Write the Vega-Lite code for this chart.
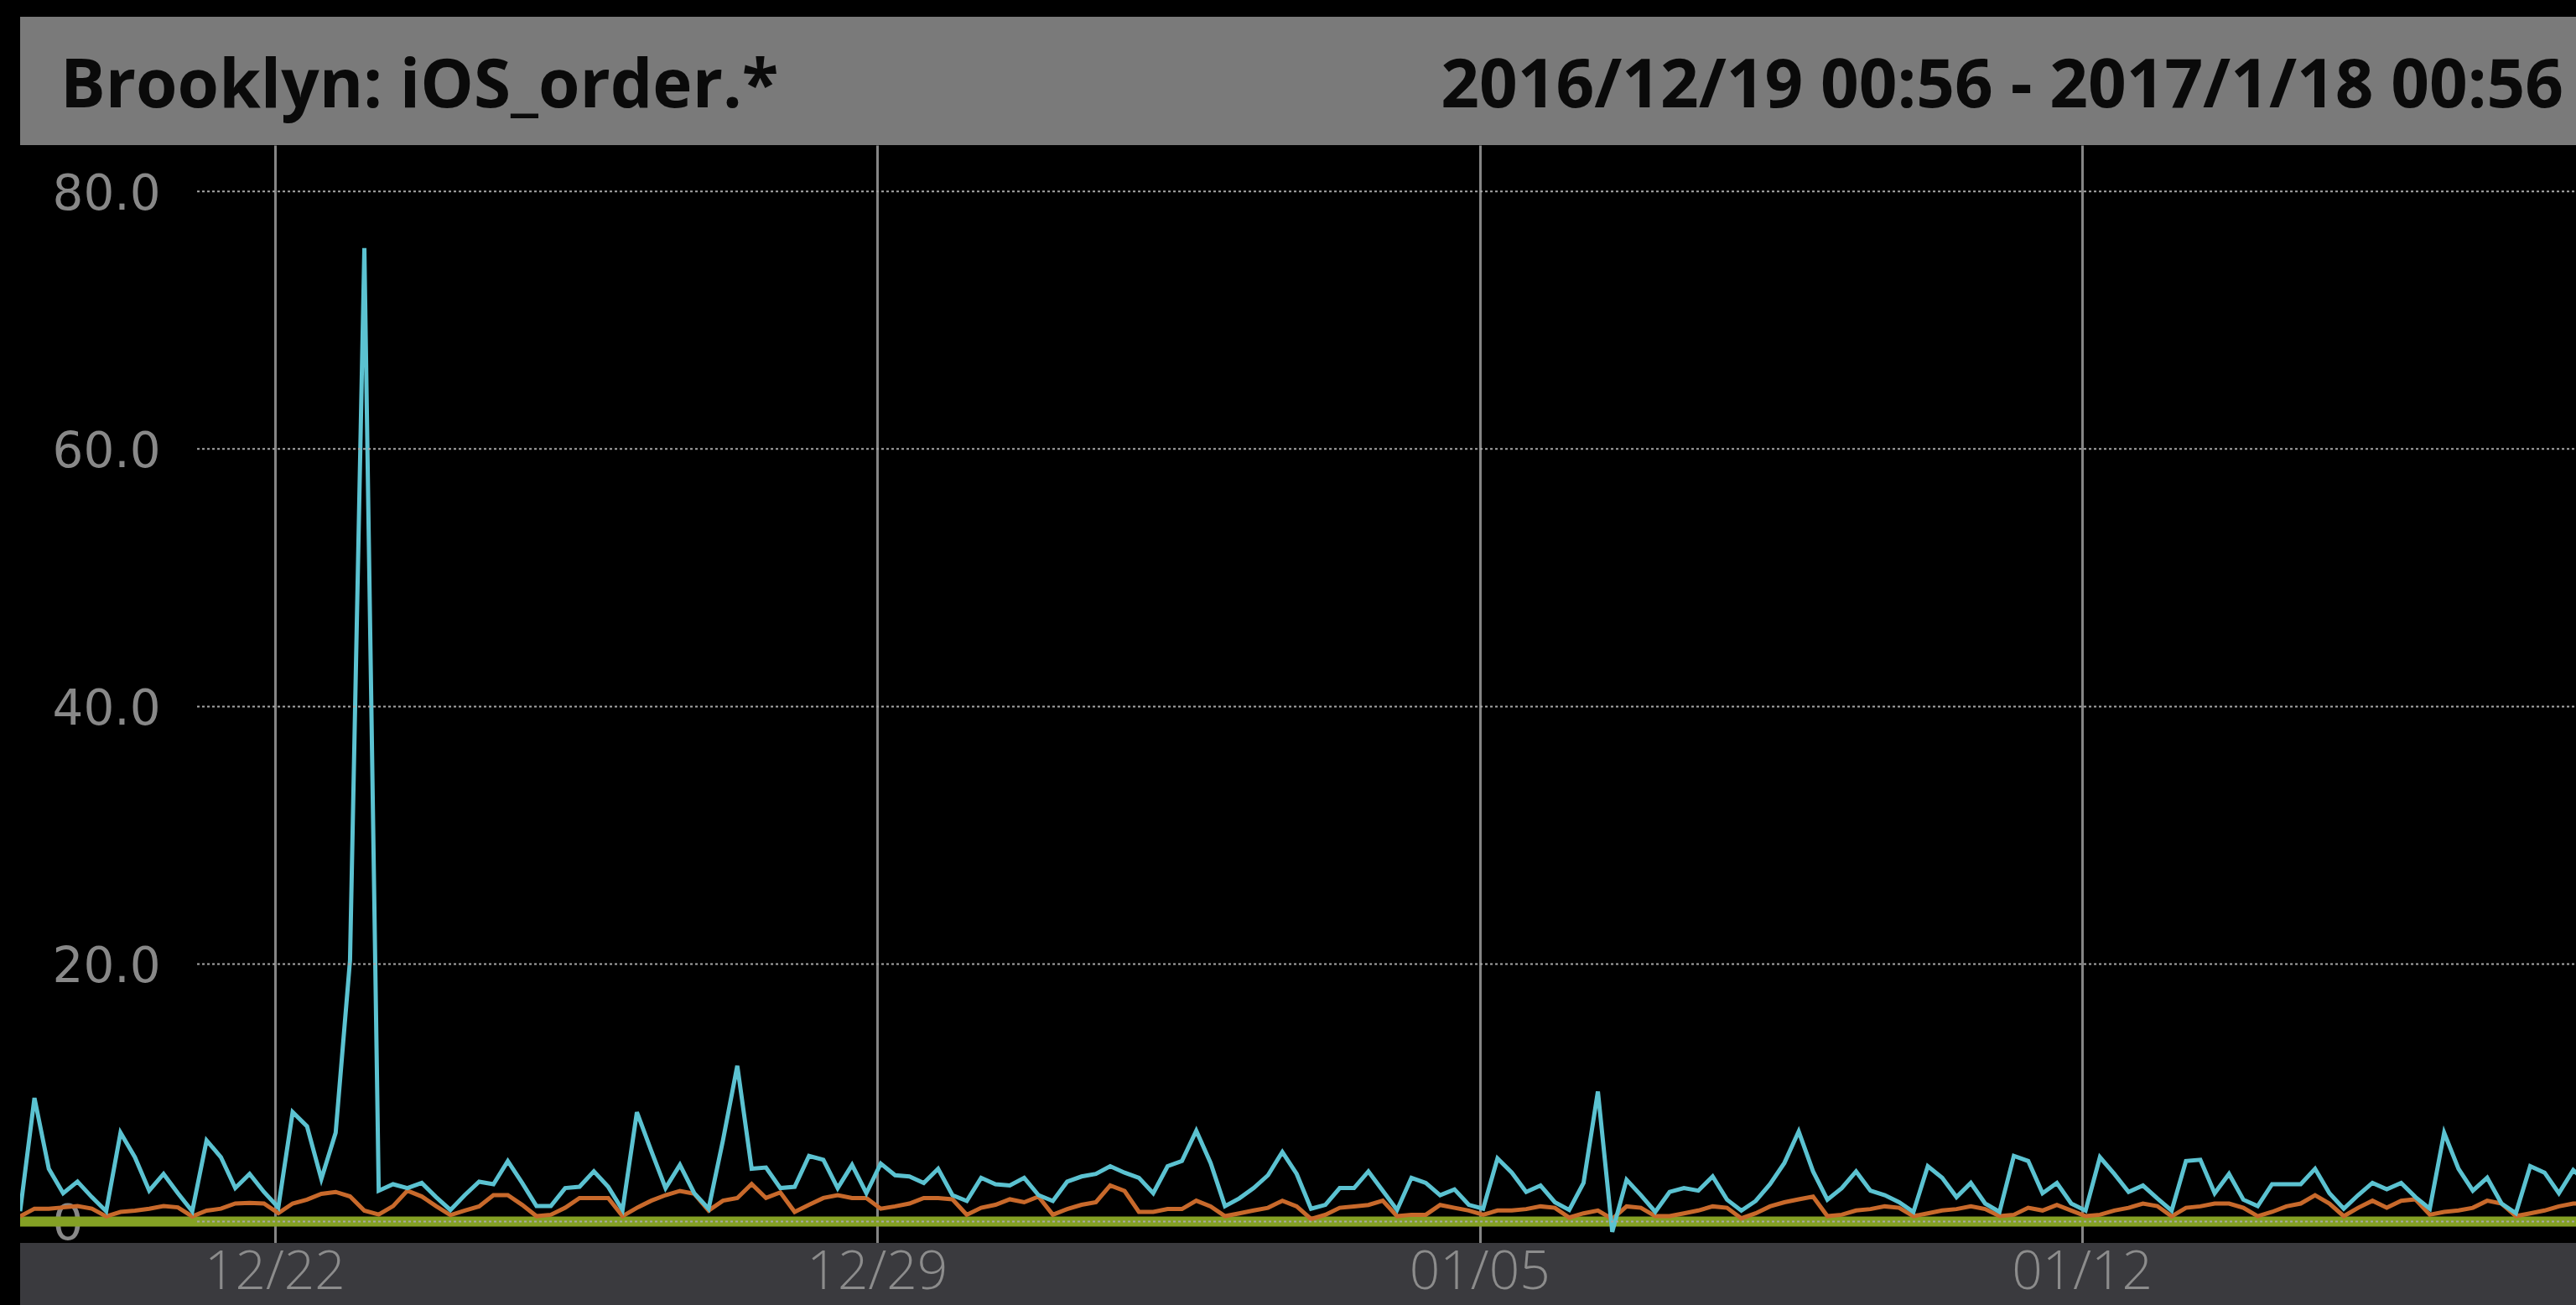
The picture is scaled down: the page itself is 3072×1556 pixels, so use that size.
{
  "$schema": "https://vega.github.io/schema/vega-lite/v6.json",
  "background": "black",
  "padding": {"left": 24, "top": 20, "right": 0, "bottom": 0},
  "spacing": 0,
  "bounds": "flush",
  "config": {"view": {"stroke": null}},
  "resolve": {"scale": {"x": "independent", "y": "independent"}},
  "datasets": {
    "header": [
      {"pos": "left", "label": "Brooklyn: iOS_order.*"},
      {"pos": "right", "label": "2016/12/19 00:56 - 2017/1/18 00:56"}
    ],
    "weeks": [
      {"t": "2016-12-22T00:00"},
      {"t": "2016-12-29T00:00"},
      {"t": "2017-01-05T00:00"},
      {"t": "2017-01-12T00:00"}
    ],
    "gridvals": [{"v": 0}, {"v": 20}, {"v": 40}, {"v": 60}, {"v": 80}],
    "series": [
      {"t": "2016-12-19T00:56", "s1": 0.8, "s2": 0.4, "s3": 0},
      {"t": "2016-12-19T04:56", "s1": 9.6, "s2": 1.0, "s3": 0},
      {"t": "2016-12-19T08:56", "s1": 4.1, "s2": 1.0, "s3": 0},
      {"t": "2016-12-19T12:56", "s1": 2.2, "s2": 1.1, "s3": 0},
      {"t": "2016-12-19T16:56", "s1": 3.1, "s2": 1.2, "s3": 0},
      {"t": "2016-12-19T20:56", "s1": 1.9, "s2": 1.0, "s3": 0},
      {"t": "2016-12-20T00:56", "s1": 0.8, "s2": 0.4, "s3": 0},
      {"t": "2016-12-20T04:56", "s1": 6.9, "s2": 0.75, "s3": 0},
      {"t": "2016-12-20T08:56", "s1": 5.0, "s2": 0.85, "s3": 0},
      {"t": "2016-12-20T12:56", "s1": 2.4, "s2": 1.0, "s3": 0},
      {"t": "2016-12-20T16:56", "s1": 3.7, "s2": 1.2, "s3": 0},
      {"t": "2016-12-20T20:56", "s1": 2.2, "s2": 1.1, "s3": 0},
      {"t": "2016-12-21T00:56", "s1": 0.8, "s2": 0.4, "s3": 0},
      {"t": "2016-12-21T04:56", "s1": 6.3, "s2": 0.85, "s3": 0},
      {"t": "2016-12-21T08:56", "s1": 5.0, "s2": 1.0, "s3": 0},
      {"t": "2016-12-21T12:56", "s1": 2.6, "s2": 1.4, "s3": 0},
      {"t": "2016-12-21T16:56", "s1": 3.7, "s2": 1.45, "s3": 0},
      {"t": "2016-12-21T20:56", "s1": 2.3, "s2": 1.4, "s3": 0},
      {"t": "2016-12-22T00:56", "s1": 1.1, "s2": 0.65, "s3": 0},
      {"t": "2016-12-22T04:56", "s1": 8.5, "s2": 1.4, "s3": 0},
      {"t": "2016-12-22T08:56", "s1": 7.4, "s2": 1.7, "s3": 0},
      {"t": "2016-12-22T12:56", "s1": 3.3, "s2": 2.15, "s3": 0},
      {"t": "2016-12-22T16:56", "s1": 6.9, "s2": 2.3, "s3": 0},
      {"t": "2016-12-22T20:56", "s1": 20.3, "s2": 1.95, "s3": 0},
      {"t": "2016-12-23T00:56", "s1": 75.6, "s2": 0.85, "s3": 0},
      {"t": "2016-12-23T04:56", "s1": 2.4, "s2": 0.55, "s3": 0},
      {"t": "2016-12-23T08:56", "s1": 2.9, "s2": 1.2, "s3": 0},
      {"t": "2016-12-23T12:56", "s1": 2.6, "s2": 2.4, "s3": 0},
      {"t": "2016-12-23T16:56", "s1": 3.0, "s2": 1.95, "s3": 0},
      {"t": "2016-12-23T20:56", "s1": 1.9, "s2": 1.2, "s3": 0},
      {"t": "2016-12-24T00:56", "s1": 0.9, "s2": 0.5, "s3": 0},
      {"t": "2016-12-24T04:56", "s1": 2.05, "s2": 0.86, "s3": 0},
      {"t": "2016-12-24T08:56", "s1": 3.1, "s2": 1.18, "s3": 0},
      {"t": "2016-12-24T12:56", "s1": 2.9, "s2": 2.05, "s3": 0},
      {"t": "2016-12-24T16:56", "s1": 4.7, "s2": 2.05, "s3": 0},
      {"t": "2016-12-24T20:56", "s1": 3.0, "s2": 1.3, "s3": 0},
      {"t": "2016-12-25T00:56", "s1": 1.2, "s2": 0.42, "s3": 0},
      {"t": "2016-12-25T04:56", "s1": 1.2, "s2": 0.53, "s3": 0},
      {"t": "2016-12-25T08:56", "s1": 2.6, "s2": 1.07, "s3": 0},
      {"t": "2016-12-25T12:56", "s1": 2.7, "s2": 1.83, "s3": 0},
      {"t": "2016-12-25T16:56", "s1": 3.9, "s2": 1.83, "s3": 0},
      {"t": "2016-12-25T20:56", "s1": 2.7, "s2": 1.83, "s3": 0},
      {"t": "2016-12-26T00:56", "s1": 0.9, "s2": 0.42, "s3": 0},
      {"t": "2016-12-26T04:56", "s1": 8.5, "s2": 1.07, "s3": 0},
      {"t": "2016-12-26T08:56", "s1": 5.5, "s2": 1.62, "s3": 0},
      {"t": "2016-12-26T12:56", "s1": 2.6, "s2": 2.05, "s3": 0},
      {"t": "2016-12-26T16:56", "s1": 4.4, "s2": 2.38, "s3": 0},
      {"t": "2016-12-26T20:56", "s1": 2.2, "s2": 2.16, "s3": 0},
      {"t": "2016-12-27T00:56", "s1": 1.0, "s2": 0.86, "s3": 0},
      {"t": "2016-12-27T04:56", "s1": 6.3, "s2": 1.62, "s3": 0},
      {"t": "2016-12-27T08:56", "s1": 12.1, "s2": 1.83, "s3": 0},
      {"t": "2016-12-27T12:56", "s1": 4.1, "s2": 2.92, "s3": 0},
      {"t": "2016-12-27T16:56", "s1": 4.2, "s2": 1.83, "s3": 0},
      {"t": "2016-12-27T20:56", "s1": 2.6, "s2": 2.27, "s3": 0},
      {"t": "2016-12-28T00:56", "s1": 2.7, "s2": 0.75, "s3": 0},
      {"t": "2016-12-28T04:56", "s1": 5.1, "s2": 1.3, "s3": 0},
      {"t": "2016-12-28T08:56", "s1": 4.8, "s2": 1.83, "s3": 0},
      {"t": "2016-12-28T12:56", "s1": 2.6, "s2": 2.05, "s3": 0},
      {"t": "2016-12-28T16:56", "s1": 4.4, "s2": 1.83, "s3": 0},
      {"t": "2016-12-28T20:56", "s1": 2.2, "s2": 1.83, "s3": 0},
      {"t": "2016-12-29T00:56", "s1": 4.5, "s2": 1.0, "s3": 0},
      {"t": "2016-12-29T04:56", "s1": 3.6, "s2": 1.18, "s3": 0},
      {"t": "2016-12-29T08:56", "s1": 3.5, "s2": 1.4, "s3": 0},
      {"t": "2016-12-29T12:56", "s1": 3.0, "s2": 1.83, "s3": 0},
      {"t": "2016-12-29T16:56", "s1": 4.1, "s2": 1.83, "s3": 0},
      {"t": "2016-12-29T20:56", "s1": 2.05, "s2": 1.73, "s3": 0},
      {"t": "2016-12-30T00:56", "s1": 1.6, "s2": 0.53, "s3": 0},
      {"t": "2016-12-30T04:56", "s1": 3.4, "s2": 1.07, "s3": 0},
      {"t": "2016-12-30T08:56", "s1": 2.9, "s2": 1.3, "s3": 0},
      {"t": "2016-12-30T12:56", "s1": 2.8, "s2": 1.73, "s3": 0},
      {"t": "2016-12-30T16:56", "s1": 3.4, "s2": 1.5, "s3": 0},
      {"t": "2016-12-30T20:56", "s1": 2.05, "s2": 1.94, "s3": 0},
      {"t": "2016-12-31T00:56", "s1": 1.6, "s2": 0.53, "s3": 0},
      {"t": "2016-12-31T04:56", "s1": 3.1, "s2": 0.97, "s3": 0},
      {"t": "2016-12-31T08:56", "s1": 3.5, "s2": 1.3, "s3": 0},
      {"t": "2016-12-31T12:56", "s1": 3.7, "s2": 1.5, "s3": 0},
      {"t": "2016-12-31T16:56", "s1": 4.3, "s2": 2.81, "s3": 0},
      {"t": "2016-12-31T20:56", "s1": 3.8, "s2": 2.38, "s3": 0},
      {"t": "2017-01-01T00:56", "s1": 3.4, "s2": 0.75, "s3": 0},
      {"t": "2017-01-01T04:56", "s1": 2.2, "s2": 0.75, "s3": 0},
      {"t": "2017-01-01T08:56", "s1": 4.3, "s2": 0.97, "s3": 0},
      {"t": "2017-01-01T12:56", "s1": 4.7, "s2": 0.97, "s3": 0},
      {"t": "2017-01-01T16:56", "s1": 7.05, "s2": 1.62, "s3": 0},
      {"t": "2017-01-01T20:56", "s1": 4.55, "s2": 1.18, "s3": 0},
      {"t": "2017-01-02T00:56", "s1": 1.2, "s2": 0.42, "s3": 0},
      {"t": "2017-01-02T04:56", "s1": 1.8, "s2": 0.64, "s3": 0},
      {"t": "2017-01-02T08:56", "s1": 2.6, "s2": 0.86, "s3": 0},
      {"t": "2017-01-02T12:56", "s1": 3.6, "s2": 1.07, "s3": 0},
      {"t": "2017-01-02T16:56", "s1": 5.4, "s2": 1.62, "s3": 0},
      {"t": "2017-01-02T20:56", "s1": 3.7, "s2": 1.18, "s3": 0},
      {"t": "2017-01-03T00:56", "s1": 1.0, "s2": 0.2, "s3": 0},
      {"t": "2017-01-03T04:56", "s1": 1.3, "s2": 0.53, "s3": 0},
      {"t": "2017-01-03T08:56", "s1": 2.6, "s2": 1.07, "s3": 0},
      {"t": "2017-01-03T12:56", "s1": 2.6, "s2": 1.18, "s3": 0},
      {"t": "2017-01-03T16:56", "s1": 3.9, "s2": 1.29, "s3": 0},
      {"t": "2017-01-03T20:56", "s1": 2.4, "s2": 1.62, "s3": 0},
      {"t": "2017-01-04T00:56", "s1": 0.9, "s2": 0.42, "s3": 0},
      {"t": "2017-01-04T04:56", "s1": 3.4, "s2": 0.53, "s3": 0},
      {"t": "2017-01-04T08:56", "s1": 3.0, "s2": 0.53, "s3": 0},
      {"t": "2017-01-04T12:56", "s1": 2.05, "s2": 1.29, "s3": 0},
      {"t": "2017-01-04T16:56", "s1": 2.5, "s2": 1.07, "s3": 0},
      {"t": "2017-01-04T20:56", "s1": 1.3, "s2": 0.86, "s3": 0},
      {"t": "2017-01-05T00:56", "s1": 1.0, "s2": 0.53, "s3": 0},
      {"t": "2017-01-05T04:56", "s1": 4.9, "s2": 0.86, "s3": 0},
      {"t": "2017-01-05T08:56", "s1": 3.8, "s2": 0.86, "s3": 0},
      {"t": "2017-01-05T12:56", "s1": 2.3, "s2": 0.97, "s3": 0},
      {"t": "2017-01-05T16:56", "s1": 2.8, "s2": 1.18, "s3": 0},
      {"t": "2017-01-05T20:56", "s1": 1.5, "s2": 1.07, "s3": 0},
      {"t": "2017-01-06T00:56", "s1": 0.9, "s2": 0.31, "s3": 0},
      {"t": "2017-01-06T04:56", "s1": 3.0, "s2": 0.64, "s3": 0},
      {"t": "2017-01-06T08:56", "s1": 10.1, "s2": 0.86, "s3": 0},
      {"t": "2017-01-06T12:56", "s1": -0.8, "s2": 0.2, "s3": 0},
      {"t": "2017-01-06T16:56", "s1": 3.25, "s2": 1.18, "s3": 0},
      {"t": "2017-01-06T20:56", "s1": 2.05, "s2": 1.07, "s3": 0},
      {"t": "2017-01-07T00:56", "s1": 0.75, "s2": 0.42, "s3": 0},
      {"t": "2017-01-07T04:56", "s1": 2.3, "s2": 0.42, "s3": 0},
      {"t": "2017-01-07T08:56", "s1": 2.6, "s2": 0.64, "s3": 0},
      {"t": "2017-01-07T12:56", "s1": 2.4, "s2": 0.86, "s3": 0},
      {"t": "2017-01-07T16:56", "s1": 3.5, "s2": 1.18, "s3": 0},
      {"t": "2017-01-07T20:56", "s1": 1.7, "s2": 1.07, "s3": 0},
      {"t": "2017-01-08T00:56", "s1": 0.85, "s2": 0.25, "s3": 0},
      {"t": "2017-01-08T04:56", "s1": 1.6, "s2": 0.64, "s3": 0},
      {"t": "2017-01-08T08:56", "s1": 2.9, "s2": 1.18, "s3": 0},
      {"t": "2017-01-08T12:56", "s1": 4.55, "s2": 1.5, "s3": 0},
      {"t": "2017-01-08T16:56", "s1": 7.0, "s2": 1.73, "s3": 0},
      {"t": "2017-01-08T20:56", "s1": 3.9, "s2": 1.94, "s3": 0},
      {"t": "2017-01-09T00:56", "s1": 1.7, "s2": 0.42, "s3": 0},
      {"t": "2017-01-09T04:56", "s1": 2.6, "s2": 0.53, "s3": 0},
      {"t": "2017-01-09T08:56", "s1": 3.9, "s2": 0.86, "s3": 0},
      {"t": "2017-01-09T12:56", "s1": 2.4, "s2": 0.97, "s3": 0},
      {"t": "2017-01-09T16:56", "s1": 2.05, "s2": 1.18, "s3": 0},
      {"t": "2017-01-09T20:56", "s1": 1.5, "s2": 1.07, "s3": 0},
      {"t": "2017-01-10T00:56", "s1": 0.75, "s2": 0.42, "s3": 0},
      {"t": "2017-01-10T04:56", "s1": 4.3, "s2": 0.64, "s3": 0},
      {"t": "2017-01-10T08:56", "s1": 3.4, "s2": 0.86, "s3": 0},
      {"t": "2017-01-10T12:56", "s1": 1.9, "s2": 0.97, "s3": 0},
      {"t": "2017-01-10T16:56", "s1": 3.0, "s2": 1.18, "s3": 0},
      {"t": "2017-01-10T20:56", "s1": 1.4, "s2": 0.97, "s3": 0},
      {"t": "2017-01-11T00:56", "s1": 0.75, "s2": 0.42, "s3": 0},
      {"t": "2017-01-11T04:56", "s1": 5.1, "s2": 0.53, "s3": 0},
      {"t": "2017-01-11T08:56", "s1": 4.7, "s2": 1.07, "s3": 0},
      {"t": "2017-01-11T12:56", "s1": 2.2, "s2": 0.86, "s3": 0},
      {"t": "2017-01-11T16:56", "s1": 3.0, "s2": 1.29, "s3": 0},
      {"t": "2017-01-11T20:56", "s1": 1.4, "s2": 0.86, "s3": 0},
      {"t": "2017-01-12T00:56", "s1": 0.85, "s2": 0.42, "s3": 0},
      {"t": "2017-01-12T04:56", "s1": 5.0, "s2": 0.53, "s3": 0},
      {"t": "2017-01-12T08:56", "s1": 3.7, "s2": 0.86, "s3": 0},
      {"t": "2017-01-12T12:56", "s1": 2.3, "s2": 1.07, "s3": 0},
      {"t": "2017-01-12T16:56", "s1": 2.8, "s2": 1.4, "s3": 0},
      {"t": "2017-01-12T20:56", "s1": 1.8, "s2": 1.2, "s3": 0},
      {"t": "2017-01-13T00:56", "s1": 0.85, "s2": 0.4, "s3": 0},
      {"t": "2017-01-13T04:56", "s1": 4.7, "s2": 1.07, "s3": 0},
      {"t": "2017-01-13T08:56", "s1": 4.8, "s2": 1.18, "s3": 0},
      {"t": "2017-01-13T12:56", "s1": 2.2, "s2": 1.4, "s3": 0},
      {"t": "2017-01-13T16:56", "s1": 3.7, "s2": 1.4, "s3": 0},
      {"t": "2017-01-13T20:56", "s1": 1.7, "s2": 1.07, "s3": 0},
      {"t": "2017-01-14T00:56", "s1": 1.2, "s2": 0.42, "s3": 0},
      {"t": "2017-01-14T04:56", "s1": 2.9, "s2": 0.75, "s3": 0},
      {"t": "2017-01-14T08:56", "s1": 2.9, "s2": 1.18, "s3": 0},
      {"t": "2017-01-14T12:56", "s1": 2.9, "s2": 1.4, "s3": 0},
      {"t": "2017-01-14T16:56", "s1": 4.1, "s2": 2.05, "s3": 0},
      {"t": "2017-01-14T20:56", "s1": 2.2, "s2": 1.4, "s3": 0},
      {"t": "2017-01-15T00:56", "s1": 1.0, "s2": 0.42, "s3": 0},
      {"t": "2017-01-15T04:56", "s1": 2.05, "s2": 1.07, "s3": 0},
      {"t": "2017-01-15T08:56", "s1": 3.0, "s2": 1.62, "s3": 0},
      {"t": "2017-01-15T12:56", "s1": 2.5, "s2": 1.07, "s3": 0},
      {"t": "2017-01-15T16:56", "s1": 3.0, "s2": 1.62, "s3": 0},
      {"t": "2017-01-15T20:56", "s1": 1.9, "s2": 1.73, "s3": 0},
      {"t": "2017-01-16T00:56", "s1": 1.0, "s2": 0.53, "s3": 0},
      {"t": "2017-01-16T04:56", "s1": 6.9, "s2": 0.75, "s3": 0},
      {"t": "2017-01-16T08:56", "s1": 4.1, "s2": 0.86, "s3": 0},
      {"t": "2017-01-16T12:56", "s1": 2.4, "s2": 1.07, "s3": 0},
      {"t": "2017-01-16T16:56", "s1": 3.4, "s2": 1.62, "s3": 0},
      {"t": "2017-01-16T20:56", "s1": 1.4, "s2": 1.4, "s3": 0},
      {"t": "2017-01-17T00:56", "s1": 0.65, "s2": 0.42, "s3": 0},
      {"t": "2017-01-17T04:56", "s1": 4.3, "s2": 0.64, "s3": 0},
      {"t": "2017-01-17T08:56", "s1": 3.8, "s2": 0.86, "s3": 0},
      {"t": "2017-01-17T12:56", "s1": 2.2, "s2": 1.18, "s3": 0},
      {"t": "2017-01-17T16:56", "s1": 4.0, "s2": 1.4, "s3": 0},
      {"t": "2017-01-17T20:56", "s1": 3.0, "s2": 1.4, "s3": 0}
    ]
  },
  "vconcat": [
    {
      "width": 3048,
      "height": 153,
      "view": {"fill": "#7a7a7a", "stroke": null},
      "data": {"name": "header"},
      "layer": [
        {
          "transform": [{"filter": "datum.pos === 'left'"}],
          "mark": {"type": "text", "align": "left", "baseline": "alphabetic", "dx": 48, "dy": 31, "font": "Open Sans", "fontWeight": "bold", "fontSize": 80, "color": "#0a0a0a"},
          "encoding": {
            "x": {"field": "pos", "type": "nominal", "scale": {"type": "point", "domain": ["left", "right"], "padding": 0}, "axis": null},
            "text": {"field": "label", "type": "nominal"}
          }
        },
        {
          "transform": [{"filter": "datum.pos === 'right'"}],
          "mark": {"type": "text", "align": "right", "baseline": "alphabetic", "dx": -15, "dy": 31, "font": "Open Sans", "fontWeight": "bold", "fontSize": 80, "color": "#0a0a0a"},
          "encoding": {
            "x": {"field": "pos", "type": "nominal", "scale": {"type": "point", "domain": ["left", "right"], "padding": 0}, "axis": null},
            "text": {"field": "label", "type": "nominal"}
          }
        }
      ]
    },
    {
      "width": 3048,
      "height": 1309,
      "view": {"fill": "black", "stroke": null},
      "layer": [
        {
          "data": {"name": "series"},
          "mark": {"type": "line", "color": "#84a024", "strokeWidth": 12, "clip": true},
          "encoding": {
            "x": {
              "field": "t",
              "type": "temporal",
              "scale": {
                "domain": [
                  {"year": 2016, "month": 12, "date": 19, "hours": 0, "minutes": 56},
                  {"year": 2017, "month": 1, "date": 17, "hours": 17, "minutes": 42}
                ],
                "nice": false
              },
              "axis": {
                "title": null,
                "grid": true,
                "labels": false,
                "ticks": false,
                "domain": false,
                "gridColor": "#858585",
                "gridWidth": 3,
                "zindex": 0,
                "values": [
                  {"year": 2016, "month": 12, "date": 22},
                  {"year": 2016, "month": 12, "date": 29},
                  {"year": 2017, "month": 1, "date": 5},
                  {"year": 2017, "month": 1, "date": 12}
                ]
              }
            },
            "y": {
              "field": "s3",
              "type": "quantitative",
              "scale": {"domain": [-1.66, 83.6], "nice": false, "zero": false},
              "axis": {
                "title": null,
                "grid": false,
                "ticks": false,
                "domain": false,
                "values": [0, 20, 40, 60, 80],
                "labelAlign": "left",
                "labelPadding": -38,
                "labelOffset": 4,
                "labelFont": "DejaVu Sans",
                "labelFontSize": 58,
                "labelColor": "#888888",
                "labelExpr": "datum.value == 0 ? '0' : format(datum.value, '.1f')",
                "zindex": 0
              }
            }
          }
        },
        {
          "data": {"name": "series"},
          "mark": {"type": "line", "color": "#c8692b", "strokeWidth": 5, "clip": true},
          "encoding": {
            "x": {"field": "t", "type": "temporal"},
            "y": {"field": "s2", "type": "quantitative"}
          }
        },
        {
          "data": {"name": "series"},
          "mark": {"type": "line", "color": "#5bc2d1", "strokeWidth": 5, "clip": true},
          "encoding": {
            "x": {"field": "t", "type": "temporal"},
            "y": {"field": "s1", "type": "quantitative"}
          }
        },
        {
          "data": {"name": "gridvals"},
          "mark": {"type": "rule", "color": "#a8a8a8", "strokeWidth": 2, "strokeDash": [3, 3], "clip": true},
          "encoding": {
            "y": {"field": "v", "type": "quantitative"},
            "x": {"datum": {"year": 2016, "month": 12, "date": 21, "hours": 2, "minutes": 17}, "type": "temporal"},
            "x2": {"datum": {"year": 2017, "month": 1, "date": 18, "hours": 0, "minutes": 56}}
          }
        }
      ]
    },
    {
      "width": 3048,
      "height": 74,
      "view": {"fill": "#3a3a3e", "stroke": null},
      "data": {"name": "weeks"},
      "mark": {"type": "text", "font": "Open Sans", "fontWeight": 300, "fontSize": 64, "color": "#8c8c8c", "baseline": "alphabetic", "dy": 18},
      "encoding": {
        "x": {
          "field": "t",
          "type": "temporal",
          "scale": {
            "domain": [
              {"year": 2016, "month": 12, "date": 19, "hours": 0, "minutes": 56},
              {"year": 2017, "month": 1, "date": 17, "hours": 17, "minutes": 42}
            ],
            "nice": false
          },
          "axis": null
        },
        "text": {"field": "t", "type": "temporal", "format": "%m/%d"}
      }
    }
  ]
}
